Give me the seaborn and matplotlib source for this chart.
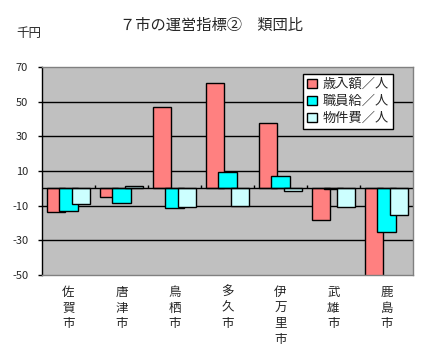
import matplotlib
matplotlib.use("Agg")
import matplotlib.pyplot as plt
import seaborn as sns
import pandas as pd
import numpy as np

cities = ["佐賀市", "唐津市", "鳥栖市", "多久市", "伊万里市", "武雄市", "鹿島市"]
series = ["歳入額／人", "職員給／人", "物件費／人"]
revenue = [-13.8, -5.2, 46.7, 60.6, 37.7, -18.5, -52.0]
salary = [-13.3, -8.7, -11.5, 9.2, 6.9, -0.6, -25.4]
supplies = [-9.2, 1.2, -11.0, -10.2, -1.7, -11.0, -15.6]
yticks = [70, 50, 30, 10, -10, -30, -50]
colors = ["#FF8080", "#00FFFF", "#CCFFFF"]

df = pd.DataFrame({
    "city": cities * 3,
    "series": [series[0]] * 7 + [series[1]] * 7 + [series[2]] * 7,
    "value": revenue + salary + supplies,
})

sns.set_style("white")
plt.rcParams["font.family"] = ["Noto Sans CJK JP", "DejaVu Sans"]

fig = plt.figure(figsize=(4.24, 3.61), dpi=100)
ax = fig.add_axes([42 / 424, (361 - 275) / 361, 371 / 424, 208 / 361])
ax.set_facecolor("#C0C0C0")

sns.barplot(data=df, x="city", y="value", hue="series", palette=colors,
            edgecolor="black", linewidth=1.0, ax=ax, legend=True, errorbar=None,
            saturation=1)

# Excel-like overlapping bars
new_w = 0.34
for p in ax.patches:
    w = p.get_width()
    if w <= 0:
        continue
    cx = p.get_x() + w / 2
    g = round(cx)
    off = (cx - g) * (0.236 / 0.2667)
    p.set_x(g + off - new_w / 2)
    p.set_width(new_w)
    p.set_clip_on(True)

ax.set_xlim(-0.5, 6.5)
ax.set_ylim(-50, 70)
ax.set_yticks(yticks)
ax.set_yticklabels([str(v) for v in yticks], fontsize=8)
for v in yticks[1:-1]:
    ax.axhline(v, color="black", linewidth=1.0, zorder=0.5)
ax.axhline(0, color="black", linewidth=1.0, zorder=1.5)
ax.vlines(np.arange(0.5, 6.5, 1.0), 0, 2, color="black", linewidth=1.0, zorder=1.5)

ax.set_xticks(range(len(cities)))
ax.set_xticklabels(["\n".join(c) for c in cities], fontsize=9, va="top",
                   linespacing=1.25)
ax.tick_params(axis="x", length=0, pad=8)
ax.tick_params(axis="y", length=3, width=1, pad=7, direction="out", left=True, color="black")
ax.set_xlabel("")
ax.set_ylabel("")

for s in ["top", "right", "bottom"]:
    ax.spines[s].set_color("#808080")
    ax.spines[s].set_linewidth(1.0)
ax.spines["left"].set_color("black")
ax.spines["left"].set_linewidth(1.0)

leg = ax.legend(loc="upper right", bbox_to_anchor=(0.946, 0.966), fontsize=9.5,
                frameon=True, fancybox=False, edgecolor="black", framealpha=1,
                handlelength=0.75, handleheight=0.75, handletextpad=0.45,
                borderpad=0.3, labelspacing=0.3, borderaxespad=0)
leg.get_frame().set_linewidth(1.0)

fig.text(212 / 424, 1 - 25 / 361, "７市の運営指標②　類団比", ha="center", va="center", fontsize=11)
fig.text(16 / 424, 1 - 33 / 361, "千円", ha="left", va="center", fontsize=9)

fig.savefig("out.png", dpi=100, facecolor="white")
